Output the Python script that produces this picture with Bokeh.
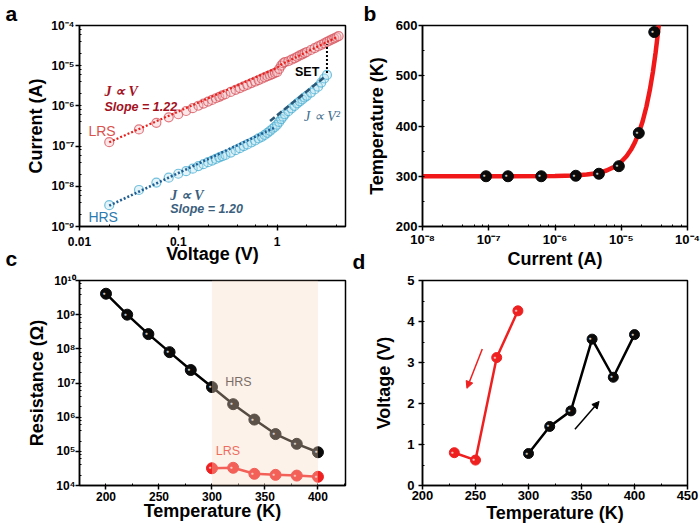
from bokeh.plotting import figure
from bokeh.layouts import gridplot
from bokeh.models import (Title, BoxAnnotation, CustomJSTickFormatter, LogTicker,
                          SingleIntervalTicker, Range1d, Arrow, NormalHead)
from bokeh.core.properties import value
from bokeh.embed import file_html
from bokeh.resources import INLINE

FONT = "Liberation Sans"

# ---------------- panel a : I-V ----------------
a_volt_lrs = [0.02, 0.04, 0.06, 0.08, 0.10, 0.12, 0.14, 0.16, 0.18, 0.20, 0.22, 0.24, 0.26, 0.28,
              0.30, 0.34, 0.38, 0.42, 0.46, 0.50, 0.55, 0.60, 0.65, 0.70, 0.75, 0.80, 0.85, 0.90,
              0.95, 1.00, 1.05, 1.10, 1.15, 1.20, 1.30, 1.40, 1.50, 1.60, 1.70, 1.80, 1.90, 2.00,
              2.20, 2.40, 2.60, 2.80, 3.00, 3.20, 3.40, 3.60, 3.80, 4.00, 4.20]
a_curr_lrs = [1.25e-7, 2.6e-7, 3.8e-7, 5.2e-7, 6.2e-7, 7.46e-7, 8.77e-7, 1.01e-6, 1.14e-6, 1.28e-6,
              1.41e-6, 1.55e-6, 1.68e-6, 1.82e-6, 1.95e-6, 2.23e-6, 2.51e-6, 2.78e-6, 3.06e-6,
              3.34e-6, 3.69e-6, 4.04e-6, 4.4e-6, 4.75e-6, 5.1e-6, 5.5e-6, 5.8e-6, 6.2e-6, 6.6e-6,
              6.9e-6, 8.3e-6, 1.0e-5, 1.15e-5, 1.23e-5, 1.29e-5, 1.41e-5, 1.53e-5, 1.66e-5, 1.8e-5,
              1.92e-5, 2.06e-5, 2.19e-5, 2.46e-5, 2.74e-5, 3.02e-5, 3.31e-5, 3.6e-5, 3.9e-5,
              4.2e-5, 4.5e-5, 4.8e-5, 5.1e-5, 5.45e-5]
a_volt_hrs = [0.02, 0.04, 0.06, 0.08, 0.10, 0.12, 0.14, 0.16, 0.18, 0.20, 0.22, 0.24, 0.26, 0.28,
              0.30, 0.34, 0.38, 0.42, 0.46, 0.50, 0.55, 0.60, 0.65, 0.70, 0.75, 0.80, 0.85, 0.90,
              0.95, 1.00, 1.05, 1.10, 1.15, 1.20, 1.30, 1.40, 1.50, 1.60, 1.70, 1.80, 1.90, 2.00,
              2.20, 2.40, 2.60, 2.80, 3.00, 3.20]
a_curr_hrs = [3.4e-9, 8.1e-9, 1.24e-8, 1.64e-8, 2.05e-8, 2.38e-8, 2.75e-8, 3.16e-8, 3.55e-8, 3.98e-8,
              4.37e-8, 4.8e-8, 5.25e-8, 5.6e-8, 6.0e-8, 6.9e-8, 7.9e-8, 8.9e-8, 1.0e-7, 1.1e-7,
              1.23e-7, 1.38e-7, 1.55e-7, 1.7e-7, 1.9e-7, 2.14e-7, 2.4e-7, 2.7e-7, 3.0e-7, 3.4e-7,
              4.0e-7, 4.7e-7, 5.4e-7, 6.2e-7, 7.4e-7, 8.7e-7, 1.0e-6, 1.15e-6, 1.3e-6, 1.45e-6,
              1.62e-6, 1.78e-6, 2.14e-6, 2.57e-6, 3.0e-6, 3.8e-6, 4.8e-6, 5.9e-6]
a_fit_lrs_v = [0.02, 1.0, 1.1, 4.0]
a_fit_lrs_i = [1.25e-7, 8.9e-6, 1.07e-5, 5.1e-5]
a_fit_hrs_v = [0.02, 0.95]
a_fit_hrs_i = [3.3e-9, 2.9e-7]
a_sq_v = [0.85, 3.1]
a_sq_i = [4.2e-7, 5.5e-6]
a_set_v = [3.2, 3.2]
a_set_i = [6.6e-6, 3.4e-5]
a_xticks = [0.01, 0.1, 1]
a_xlabels = ["0.01", "0.1", "1"]
a_yticks = [1e-9, 1e-8, 1e-7, 1e-6, 1e-5, 1e-4]
a_ylabels = ["10⁻⁹", "10⁻⁸", "10⁻⁷", "10⁻⁶", "10⁻⁵", "10⁻⁴"]

# ---------------- panel b : T vs I ----------------
b_curr = [9.1e-8, 1.95e-7, 6.2e-7, 2.06e-6, 4.6e-6, 9.2e-6, 1.84e-5, 3.15e-5]
b_temp = [300, 300, 300, 301, 305, 320, 386, 587]
b_fit_curr = [1e-8, 1e-7, 1e-6, 2e-6, 3e-6, 4e-6, 5e-6, 6e-6, 8e-6, 1e-5, 1.2e-5, 1.4e-5,
              1.6e-5, 1.84e-5, 2.1e-5, 2.4e-5, 2.7e-5, 3.0e-5, 3.3e-5, 3.6e-5, 3.8e-5]
b_fit_temp = [300, 300, 300.5, 301.6, 303.3, 305.5, 308.2, 311.4, 319.2, 328.7, 339.8, 352.6,
              366.9, 386, 409, 438.7, 471.6, 507.3, 546, 588, 617]
b_xticks = [1e-8, 1e-7, 1e-6, 1e-5, 1e-4]
b_xlabels = ["10⁻⁸", "10⁻⁷", "10⁻⁶", "10⁻⁵", "10⁻⁴"]

# ---------------- panel c : R vs T ----------------
c_temp_hrs = [200, 220, 240, 260, 280, 300, 320, 340, 360, 380, 400]
c_res_hrs = [4.1e9, 1.0e9, 2.7e8, 8.0e7, 2.4e7, 7.6e6, 2.4e6, 8.5e5, 3.2e5, 1.66e5, 9.4e4]
c_temp_lrs = [300, 320, 340, 360, 380, 400]
c_res_lrs = [3.2e4, 3.3e4, 2.2e4, 2.05e4, 1.95e4, 1.8e4]
c_shade = [300, 400]
c_yticks = [1e4, 1e5, 1e6, 1e7, 1e8, 1e9, 1e10]
c_ylabels = ["10⁴", "10⁵", "10⁶", "10⁷", "10⁸", "10⁹", "10¹⁰"]

# ---------------- panel d : V vs T ----------------
d_temp_cool = [230, 250, 270, 290]
d_volt_cool = [0.80, 0.62, 3.12, 4.26]
d_temp_heat = [300, 320, 340, 360, 380, 400]
d_volt_heat = [0.78, 1.44, 1.82, 3.57, 2.64, 3.68]
d_arrow_cool = [(256.4, 3.33), (241.9, 2.37)]
d_arrow_heat = [(343.8, 1.37), (366.6, 2.05)]


def log_fmt(ticks, labels):
    return CustomJSTickFormatter(args=dict(vals=ticks, labs=labels), code="""
        let best = 0, bd = Infinity;
        for (let i = 0; i < vals.length; i++) {
            const d = Math.abs(Math.log10(tick) - Math.log10(vals[i]));
            if (d < bd) { bd = d; best = i; }
        }
        return bd < 0.01 ? labs[best] : "";
    """)


def make_fig(w, h, left, right, top, bottom, tick_size, **kw):
    p = figure(width=w, height=h, min_border_left=left, min_border_right=right,
               min_border_top=top, min_border_bottom=bottom,
               output_backend="svg", toolbar_location=None, **kw)
    p.grid.visible = False
    p.outline_line_color = "black"
    p.outline_line_width = 1.5
    for ax in p.axis:
        ax.axis_line_width = 1.5
        ax.axis_line_color = "black"
        ax.major_tick_line_width = 1.5
        ax.minor_tick_line_width = 1
        ax.major_tick_out = 4
        ax.major_tick_in = 0
        ax.minor_tick_out = 0
        ax.minor_tick_in = 2
        ax.major_label_text_font = FONT
        ax.major_label_text_font_style = "bold"
        ax.major_label_text_font_size = tick_size
        ax.major_label_text_color = "black"
        ax.axis_label_text_font = FONT
        ax.axis_label_text_font_style = "bold"
        ax.axis_label_text_font_size = "18px"
        ax.axis_label_text_color = "black"
    return p


def axis_titles(p, xt, yt, xs1, xs2, ys1, ys2):
    p.xaxis.axis_label = xt
    p.yaxis.axis_label = yt
    p.xaxis.major_label_standoff = xs1
    p.xaxis.axis_label_standoff = xs2
    p.yaxis.major_label_standoff = ys1
    p.yaxis.axis_label_standoff = ys2


def top_letter(p, t, offset):
    p.title.text = t
    p.title.align = "left"
    p.title.vertical_align = "top"
    p.title.offset = offset
    p.title.standoff = -2
    p.title.text_font = FONT
    p.title.text_font_style = "bold"
    p.title.text_font_size = "21px"
    p.title.text_color = "black"


def bottom_letter(p, t, offset, standoff):
    p.add_layout(Title(text=t, align="left", vertical_align="top", offset=offset,
                       standoff=standoff, text_font=FONT, text_font_style="bold",
                       text_font_size="21px", text_color="black"), "below")


def spheres(p, xs, ys, color, hl, size=11):
    p.scatter(xs, ys, size=size, fill_color=color, line_color=color, line_width=1)
    p.text(xs, ys, text=value("●"), text_font_size="5px", text_color=hl,
           x_offset=-2, y_offset=-1, text_align="center", text_baseline="middle")


# ---- figure a
pa = make_fig(350, 271, 77, 5, 25, 39, "12px", x_axis_type="log", y_axis_type="log",
              x_range=Range1d(0.01, 4.93), y_range=Range1d(1e-9, 1e-4))
pa.xaxis.ticker = LogTicker(mantissas=[1], desired_num_ticks=8)
pa.yaxis.ticker = LogTicker(mantissas=[1], desired_num_ticks=8)
pa.xaxis.formatter = log_fmt(a_xticks, a_xlabels)
pa.yaxis.formatter = log_fmt(a_yticks, a_ylabels)
pa.scatter(a_volt_lrs, a_curr_lrs, size=9, line_color="#d5505a", line_alpha=0.75,
           fill_color="#f3b9bd", fill_alpha=0.35, line_width=1.2)
pa.scatter(a_volt_hrs, a_curr_hrs, size=9, line_color="#4aaed2", line_alpha=0.75,
           fill_color="#b3dfee", fill_alpha=0.35, line_width=1.2)
pa.line(a_fit_lrs_v, a_fit_lrs_i, line_color="#e8201c", line_width=2.2, line_dash="2 2")
pa.line(a_fit_hrs_v, a_fit_hrs_i, line_color="#1f5e92", line_width=2.6, line_dash="2 2")
pa.line(a_sq_v, a_sq_i, line_color="#2c5878", line_width=2.6, line_dash="6 3")
pa.line(a_set_v, a_set_i, line_color="black", line_width=2, line_dash="2 2")
pa.text([0.0179], [2.3e-6], text=value("J ∝ V"), text_font=value("Liberation Serif"),
        text_font_style="bold italic", text_font_size="14px", text_color="#a3121f",
        text_baseline="middle")
pa.text([0.0179], [9.3e-7], text=value("Slope = 1.22"), text_font=value(FONT),
        text_font_style="bold italic", text_font_size="12.5px", text_color="#a3121f",
        text_baseline="middle")
pa.text([0.0123], [2.35e-7], text=value("LRS"), text_font=value(FONT),
        text_font_size="14px", text_color="#d9534f", text_baseline="middle")
pa.text([0.0123], [1.7e-9], text=value("HRS"), text_font=value(FONT),
        text_font_size="14px", text_color="#2b7bb0", text_baseline="middle")
pa.text([0.083], [5.9e-9], text=value("J ∝ V"), text_font=value("Liberation Serif"),
        text_font_style="bold italic", text_font_size="14px", text_color="#3c5f7e",
        text_baseline="middle")
pa.text([0.083], [2.7e-9], text=value("Slope = 1.20"), text_font=value(FONT),
        text_font_style="bold italic", text_font_size="12.5px", text_color="#3c5f7e",
        text_baseline="middle")
pa.text([1.87], [5.6e-7], text=value("J ∝ V²"), text_font=value("Liberation Serif"),
        text_font_style="italic", text_font_size="14px", text_color="#3d6c8c",
        text_baseline="middle")
pa.text([1.52], [6.9e-6], text=value("SET"), text_font=value(FONT),
        text_font_style="bold", text_font_size="12.5px", text_color="black",
        text_baseline="middle")
axis_titles(pa, "Voltage (V)", "Current (A)", 6, -5, 1, 2)
top_letter(pa, "a", -74)
bottom_letter(pa, "c", -74, -40)

# ---- figure b
pb = make_fig(350, 271, 72, 13, 25, 39, "13px", x_axis_type="log",
              x_range=Range1d(1e-8, 1e-4), y_range=Range1d(200, 600))
pb.xaxis.ticker = LogTicker(mantissas=[1], desired_num_ticks=8)
pb.xaxis.formatter = log_fmt(b_xticks, b_xlabels)
pb.yaxis.ticker = SingleIntervalTicker(interval=100, num_minor_ticks=2)
pb.line(b_fit_curr, b_fit_temp, line_color="#f01818", line_width=4.5)
spheres(pb, b_curr, b_temp, "#0a0a0a", "#c8c8c8")
axis_titles(pb, "Current (A)", "Temperature (K)", 1, -1, 1, 6)
top_letter(pb, "b", -59)
bottom_letter(pb, "d", -70, -44)

# ---- figure c
pc = make_fig(350, 259, 79, 3, 9, 43, "12px", y_axis_type="log",
              x_range=Range1d(175, 426), y_range=Range1d(1e4, 1e10))
pc.xaxis.ticker = SingleIntervalTicker(interval=50, num_minor_ticks=2)
pc.yaxis.ticker = LogTicker(mantissas=[1], desired_num_ticks=10)
pc.yaxis.formatter = log_fmt(c_yticks, c_ylabels)
pc.line(c_temp_hrs, c_res_hrs, line_color="black", line_width=2.5)
spheres(pc, c_temp_hrs, c_res_hrs, "#0a0a0a", "#c8c8c8")
pc.line(c_temp_lrs, c_res_lrs, line_color="#ee2020", line_width=2.5)
spheres(pc, c_temp_lrs, c_res_lrs, "#ee2020", "#ffc0c0")
pc.text([325], [1.1e7], text=value("HRS"), text_font=value(FONT), text_font_size="12.5px",
        text_color="#333333", text_align="center", text_baseline="middle")
pc.text([315], [1.05e5], text=value("LRS"), text_font=value(FONT), text_font_size="12.5px",
        text_color="#e8302a", text_align="center", text_baseline="middle")
pc.add_layout(BoxAnnotation(left=c_shade[0], right=c_shade[1], fill_color="#f8d9c4",
                            fill_alpha=0.35, line_alpha=0))
axis_titles(pc, "Temperature (K)", "Resistance (Ω)", 2, -3, 0, 4)

# ---- figure d
pd = make_fig(350, 259, 71, 13, 7, 45, "13px",
              x_range=Range1d(200, 450), y_range=Range1d(0, 5))
pd.xaxis.ticker = SingleIntervalTicker(interval=50, num_minor_ticks=2)
pd.yaxis.ticker = SingleIntervalTicker(interval=1, num_minor_ticks=2)
pd.line(d_temp_cool, d_volt_cool, line_color="#ee2020", line_width=2.5)
spheres(pd, d_temp_cool, d_volt_cool, "#ee2020", "#ffc0c0", size=10)
pd.line(d_temp_heat, d_volt_heat, line_color="black", line_width=2.5)
spheres(pd, d_temp_heat, d_volt_heat, "#0a0a0a", "#c8c8c8", size=10)
pd.add_layout(Arrow(end=NormalHead(size=7, fill_color="#ee2020", line_color="#ee2020"),
                    x_start=d_arrow_cool[0][0], y_start=d_arrow_cool[0][1],
                    x_end=d_arrow_cool[1][0], y_end=d_arrow_cool[1][1],
                    line_color="#ee2020", line_width=1.5))
pd.add_layout(Arrow(end=NormalHead(size=7, fill_color="black", line_color="black"),
                    x_start=d_arrow_heat[0][0], y_start=d_arrow_heat[0][1],
                    x_end=d_arrow_heat[1][0], y_end=d_arrow_heat[1][1],
                    line_color="black", line_width=1.5))
axis_titles(pd, "Temperature (K)", "Voltage (V)", 1, 0, 4, 10)

grid = gridplot([[pa, pb], [pc, pd]], toolbar_location=None)

open("out.html", "w").write(file_html(grid, INLINE))
